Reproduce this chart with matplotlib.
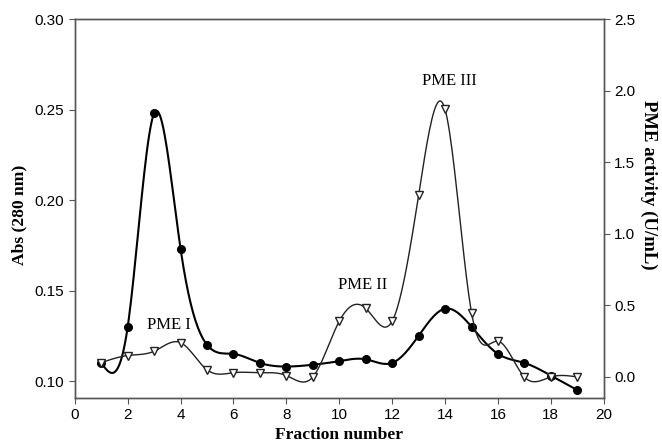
import numpy as np
import matplotlib
matplotlib.use('Agg')
import matplotlib.pyplot as plt

# fractions collected from the column
fractions = np.arange(1, 20)

# absorbance at 280 nm (filled circles, left axis)
abs_280 = [0.110, 0.130, 0.248, 0.173, 0.120, 0.115, 0.110, 0.108, 0.109, 0.111,
           0.112, 0.110, 0.125, 0.140, 0.130, 0.115, 0.110, 0.103, 0.095]

# PME activity in U/mL (open triangles, right axis)
pme_activity = [0.10, 0.15, 0.18, 0.24, 0.05, 0.03, 0.03, 0.01, 0.00, 0.39,
                0.48, 0.39, 1.27, 1.87, 0.45, 0.25, 0.00, 0.00, 0.00]

peak_labels = ['PME I', 'PME II', 'PME III']
peak_x = [3.56, 10.89, 14.18]
peak_y = [0.36, 0.64, 2.07]   # in right-axis units


# natural cubic spline, like the smoothed lines of the original plot
def smooth(x, y, n=400):
    x = np.asarray(x, float)
    y = np.asarray(y, float)
    h = np.diff(x)
    k = len(x)
    A = np.zeros((k, k))
    b = np.zeros(k)
    A[0, 0] = 1
    A[-1, -1] = 1
    for i in range(1, k - 1):
        A[i, i - 1] = h[i - 1]
        A[i, i] = 2 * (h[i - 1] + h[i])
        A[i, i + 1] = h[i]
        b[i] = 6 * ((y[i + 1] - y[i]) / h[i] - (y[i] - y[i - 1]) / h[i - 1])
    m = np.linalg.solve(A, b)
    xs = np.linspace(x[0], x[-1], n)
    idx = np.clip(np.searchsorted(x, xs) - 1, 0, k - 2)
    x0, x1 = x[idx], x[idx + 1]
    hh = x1 - x0
    t0 = x1 - xs
    t1 = xs - x0
    ys = (m[idx] * t0**3 + m[idx + 1] * t1**3) / (6 * hh) \
        + (y[idx] / hh - m[idx] * hh / 6) * t0 \
        + (y[idx + 1] / hh - m[idx + 1] * hh / 6) * t1
    return xs, ys


plt.rcParams['font.family'] = ['Liberation Sans', 'DejaVu Sans']
serif = ['Liberation Serif', 'DejaVu Serif']

fig = plt.figure(figsize=(6.62, 4.42), dpi=100)
ax = fig.add_axes([0.113, 0.0995, 0.799, 0.857])
ax2 = ax.twinx()

xs, ys = smooth(fractions, abs_280)
ax.plot(xs, ys, color='black', lw=1.5, zorder=3)
ax.plot(fractions, abs_280, 'o', color='black', ms=5.5, zorder=4)

xs, ys = smooth(fractions, pme_activity)
ax2.plot(xs, ys, color='#222222', lw=1.0, zorder=3)
ax2.plot(fractions, pme_activity, 'v', mfc='white', mec='#222222', mew=1.0, ms=6, zorder=4)

for lab, x, y in zip(peak_labels, peak_x, peak_y):
    ax2.text(x, y, lab, ha='center', va='center', fontsize=12, family=serif)

ax.set_xlim(0, 20)
ax.set_ylim(0.0906, 0.30)
ax2.set_ylim(-0.147, 2.5)
ax.set_xticks(range(0, 21, 2))
ax.set_yticks([0.10, 0.15, 0.20, 0.25, 0.30])
ax.set_yticklabels(['0.10', '0.15', '0.20', '0.25', '0.30'])
ax2.set_yticks([0.0, 0.5, 1.0, 1.5, 2.0, 2.5])

for a in (ax, ax2):
    for s in a.spines.values():
        s.set_color('#555555')
        s.set_linewidth(1.0)
    a.tick_params(labelsize=11, length=4, color='#555555', direction='out')

ax.set_xlabel('Fraction number', family=serif, fontweight='bold', fontsize=12.6, labelpad=3)
ax.set_ylabel('Abs (280 nm)', family=serif, fontweight='bold', fontsize=12.6, va='center')
ax.yaxis.set_label_coords(-0.104, 0.483)
ax2.set_ylabel('PME activity (U/mL)', family=serif, fontweight='bold', fontsize=13.5,
               rotation=270, va='center')
ax2.yaxis.set_label_coords(1.085, 0.562)

fig.savefig('out.png', dpi=100)
